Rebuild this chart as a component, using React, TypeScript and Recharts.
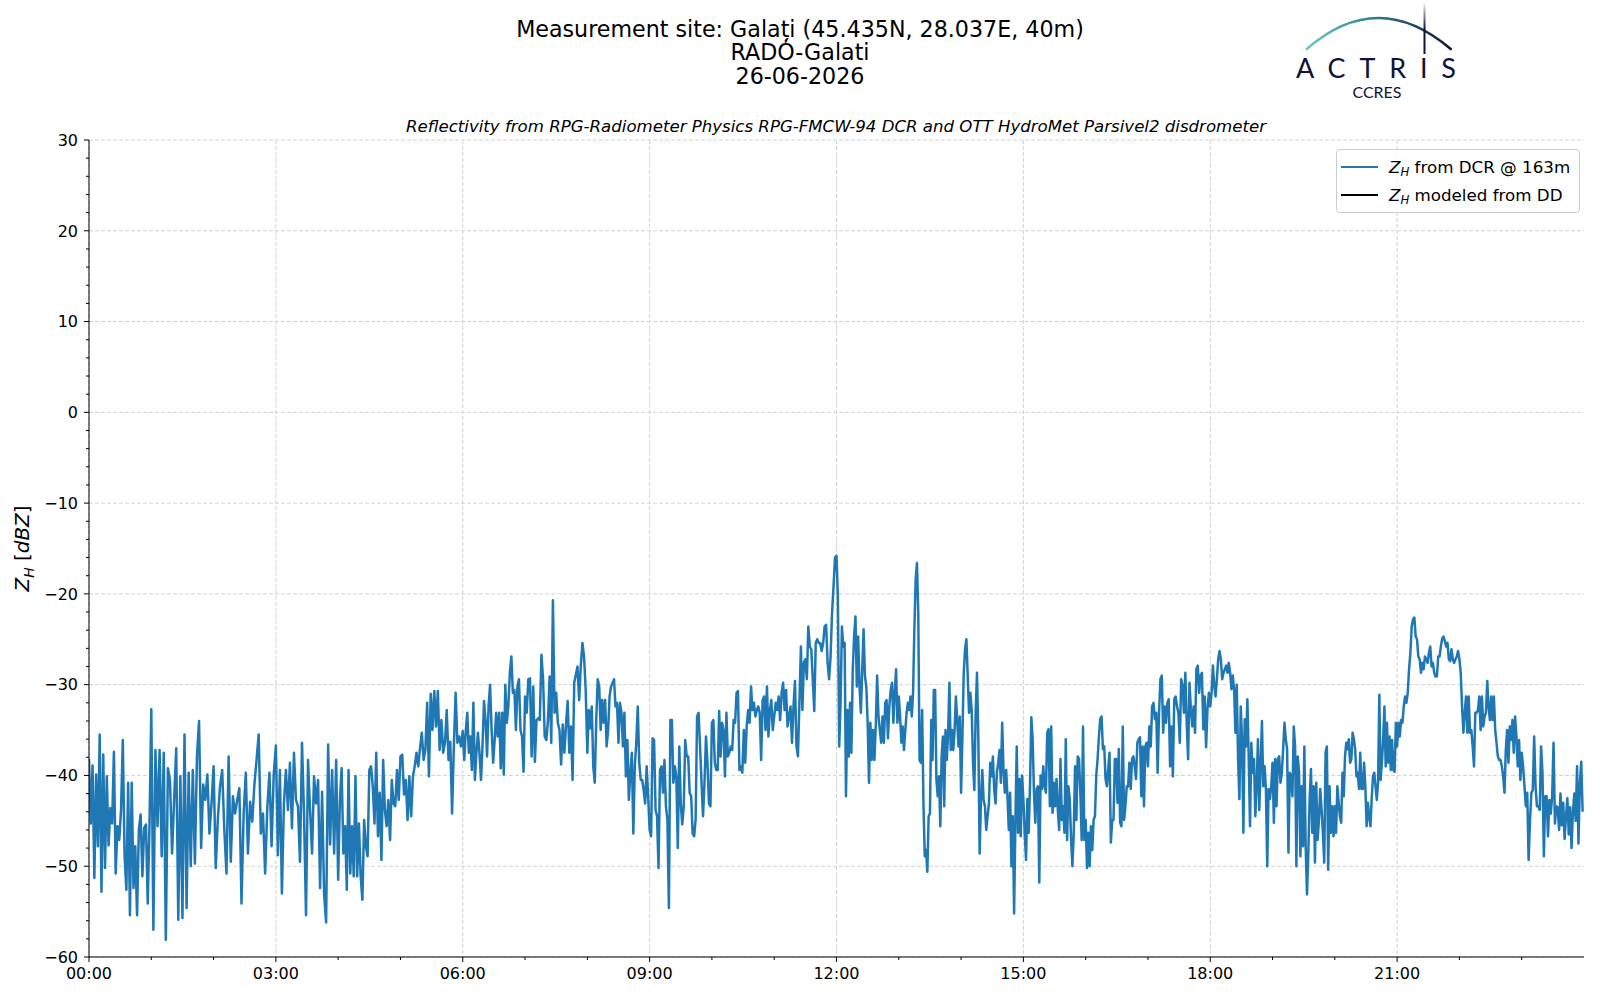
import React from 'react';
import { LineChart, Line, XAxis, YAxis, CartesianGrid, Legend } from 'recharts';

const h00 = [-38.2, -45.3, -38.9, -51.3, -39.9, -47.8, -35.5, -52.8, -37.7, -50.2, -40.1, -47.7, -43.6, -45.3, -37.4, -50.8, -45.6, -47.1, -43.8, -36.1, -48.9, -52.6, -40.8, -55.4, -40.8, -52.4, -47.8, -55.4, -46.0, -44.3, -51.1, -45.8, -45.4, -54.1, -45.3];
const h01 = [-32.7, -57.0, -37.2, -45.6, -37.2, -48.9, -37.5, -58.1, -39.2, -40.5, -48.6, -42.7, -37.0, -55.9, -40.1, -55.7, -35.5, -54.6, -39.7, -50.0, -39.4, -49.7, -37.9, -34.0, -48.0, -41.0, -42.7, -39.9, -46.4, -43.1];
const h02 = [-39.0, -50.2, -44.7, -41.2, -39.4, -46.0, -50.8, -37.9, -49.5, -42.3, -44.2, -42.7, -41.4, -54.1, -44.2, -39.7, -48.6, -42.9, -45.1, -41.0, -38.3, -35.5, -46.4, -44.2, -50.8, -43.6, -39.7, -47.8, -39.9];
const h03 = [-36.7, -48.8, -39.4, -53.0, -43.1, -39.4, -43.8, -38.6, -45.8, -37.5, -42.7, -43.4, -49.5, -36.4, -44.2, -55.4, -38.3, -43.8, -48.6, -40.1, -43.1, -40.5, -52.4, -41.8, -53.0, -56.2, -36.6, -47.6, -39.4, -48.6, -38.3];
const h04 = [-51.5, -42.7, -39.2, -48.6, -45.6, -52.6, -39.4, -50.8, -45.6, -51.1, -40.1, -51.1, -45.3, -51.1, -53.7, -44.9, -47.8, -48.9, -39.4, -39.0, -41.2, -45.3, -37.5, -46.7, -41.9, -49.3, -38.3, -43.8, -45.6, -42.7, -47.1, -40.5, -43.1, -43.4, -39.4, -42.7];
const h05 = [-37.9, -37.7, -42.1, -40.5, -44.9, -40.1, -44.5, -40.1, -39.0, -37.5, -39.0, -37.0, -35.3, -38.3, -37.2, -32.0, -40.1, -31.0, -35.0, -30.7, -34.6, -30.7, -37.2, -33.9, -37.5, -36.4, -32.8, -38.3, -36.3, -44.2, -36.8, -30.9, -36.4, -35.7, -36.8];
const h06 = [-35.1, -38.3, -35.1, -33.1, -37.5, -35.7, -39.4, -32.0, -40.5, -37.5, -35.3, -37.5, -40.5, -36.8, -31.8, -33.9, -37.9, -32.4, -30.0, -35.0, -38.6, -36.1, -33.1, -35.7, -33.1, -39.2, -33.1, -39.9, -30.0, -34.2, -32.4, -28.7, -26.9, -30.9, -30.6, -35.0, -30.2, -29.4, -35.0, -35.7, -39.6];
const h07 = [-31.3, -33.1, -29.4, -29.3, -37.9, -30.2, -38.5, -33.9, -33.7, -33.9, -26.7, -29.4, -35.7, -36.1, -33.9, -29.1, -36.4, -20.7, -33.1, -30.9, -34.2, -35.0, -38.8, -34.4, -37.5, -34.4, -31.8, -37.5, -34.6, -40.5, -29.8, -28.9, -28.0, -31.7, -28.0, -25.4, -26.9, -30.6];
const h08 = [-37.5, -32.8, -34.8, -32.4, -39.0, -40.8, -33.9, -29.4, -30.2, -35.0, -31.7, -34.2, -31.7, -36.8, -35.0, -31.3, -30.2, -29.8, -29.4, -32.4, -32.0, -36.4, -32.0, -33.1, -36.8, -33.1, -40.1, -36.1, -42.7, -39.7, -37.5, -46.4, -39.0, -36.4, -32.4, -38.6, -40.5, -40.5, -41.6, -43.1, -39.0, -42.3];
const h09 = [-46.0, -46.7, -35.9, -36.1, -43.8, -44.5, -50.2, -39.4, -39.0, -41.9, -38.3, -43.4, -44.9, -54.6, -33.9, -33.9, -40.8, -39.0, -40.1, -48.0, -36.8, -43.1, -45.4, -43.4, -36.1, -37.9, -37.9, -41.9, -42.3, -46.4, -46.7, -44.9, -33.5, -33.1, -36.8, -40.8, -44.5, -40.8, -35.7, -38.6, -43.1, -43.4];
const h10 = [-34.2, -33.9, -38.6, -39.4, -39.4, -32.9, -37.9, -34.2, -35.0, -40.1, -33.1, -37.9, -37.5, -36.8, -37.2, -33.9, -34.2, -30.9, -30.7, -39.4, -39.0, -39.7, -35.0, -38.6, -34.6, -32.8, -34.2, -30.2, -32.8, -32.0, -33.5, -32.8, -32.4, -33.1, -38.3, -31.7, -31.3, -35.0, -30.2, -35.7, -32.8, -31.7, -35.0];
const h11 = [-33.5, -32.0, -32.8, -31.3, -33.9, -30.9, -29.8, -32.8, -30.6, -34.6, -33.5, -32.4, -36.4, -32.4, -29.6, -36.8, -37.9, -32.0, -25.8, -32.8, -27.6, -27.2, -29.4, -23.6, -25.8, -26.1, -29.4, -32.9, -25.4, -25.0, -25.4, -25.4, -26.3, -25.4, -23.6, -23.4, -27.6, -29.4, -26.9, -22.1, -19.2, -16.0];
const h12 = [-15.8, -20.3, -36.8, -32.0, -23.6, -25.8, -25.4, -42.3, -32.8, -37.9, -32.0, -37.5, -28.3, -24.7, -22.5, -30.2, -24.7, -30.2, -33.1, -28.3, -23.9, -29.0, -30.2, -34.2, -40.8, -34.2, -38.3, -35.0, -38.3, -34.6, -29.0, -33.5, -35.0, -36.4, -33.5, -36.4, -32.0, -31.7, -35.9, -32.4, -30.6, -29.8, -34.2, -30.9, -28.3, -34.2];
const h13 = [-31.3, -33.5, -36.4, -34.6, -37.2, -35.0, -33.1, -32.0, -32.8, -31.3, -33.5, -30.9, -23.9, -18.4, -16.6, -22.1, -38.3, -38.6, -32.8, -43.1, -48.9, -48.2, -50.6, -44.5, -44.2, -33.9, -38.3, -30.6, -30.6, -40.5, -42.3, -40.1, -45.6, -37.9, -35.7, -43.4, -35.0, -38.3, -35.3, -29.8, -37.2, -35.0, -37.2, -35.0, -31.3, -33.9, -36.8, -33.5];
const h14 = [-41.9, -35.7, -28.7, -26.1, -25.0, -29.0, -33.1, -30.9, -32.8, -38.6, -41.6, -33.1, -28.7, -35.7, -48.6, -42.7, -39.4, -42.7, -43.4, -46.0, -44.5, -43.1, -38.6, -40.1, -37.9, -41.6, -43.1, -39.7, -38.6, -37.2, -40.8, -34.2, -39.4, -41.9, -39.4, -42.3, -46.0, -41.9, -50.0, -44.5, -55.2, -44.9, -36.8, -46.3, -40.4, -46.7, -40.0];
const h15 = [-42.6, -46.3, -49.3, -42.6, -46.3, -41.2, -33.6, -36.0, -41.9, -45.2, -41.5, -41.2, -51.8, -40.0, -41.5, -39.0, -41.2, -41.9, -35.3, -34.9, -43.4, -34.6, -44.1, -40.8, -43.4, -40.4, -43.8, -46.0, -38.2, -44.9, -43.4, -46.3, -36.0, -47.1, -41.2, -42.6, -47.1, -50.0, -46.3, -39.0, -44.9, -37.9, -38.2, -41.9, -47.1, -34.6, -47.1];
const h16 = [-44.9, -50.2, -46.3, -50.0, -45.6, -48.2, -44.9, -44.5, -40.0, -38.2, -35.7, -33.8, -33.5, -37.1, -36.8, -40.4, -41.2, -39.3, -37.5, -47.4, -44.9, -44.9, -38.2, -38.2, -43.0, -37.1, -45.2, -45.6, -34.6, -44.9, -43.4, -41.2, -41.2, -38.6, -41.5, -38.2, -37.9, -39.0, -40.4, -36.4, -36.0, -35.8, -42.3, -36.8, -43.4, -36.8, -36.4];
const h17 = [-39.0, -34.6, -36.8, -32.4, -32.0, -33.8, -33.1, -39.7, -33.1, -29.4, -29.0, -35.3, -32.4, -34.2, -32.0, -31.6, -39.0, -34.6, -40.1, -31.6, -31.3, -32.4, -33.1, -36.4, -29.4, -30.1, -33.1, -28.7, -34.2, -38.2, -29.8, -32.7, -34.6, -32.4, -35.3, -28.3, -27.9, -30.9, -29.0, -28.7, -34.9, -31.3, -36.9, -32.7, -30.9];
const h18 = [-32.4, -30.9, -27.9, -30.1, -31.3, -29.4, -27.2, -26.3, -27.2, -29.4, -28.7, -28.3, -27.9, -28.7, -27.6, -28.7, -30.5, -29.0, -30.5, -35.3, -30.0, -38.2, -42.6, -32.4, -36.0, -46.3, -33.8, -36.8, -31.6, -37.9, -45.6, -36.4, -39.7, -38.2, -44.5, -41.2, -36.0, -43.8, -39.0, -34.0, -41.2, -39.0, -41.5, -50.0, -41.5, -42.6, -41.2];
const h19 = [-38.6, -45.2, -38.2, -43.4, -38.2, -37.9, -40.8, -39.7, -37.1, -34.2, -36.0, -37.1, -48.5, -39.7, -40.1, -42.3, -34.6, -36.8, -50.0, -37.9, -39.7, -48.9, -41.2, -47.8, -36.8, -47.8, -53.1, -48.5, -42.6, -39.3, -46.3, -41.2, -49.6, -40.8, -47.1, -44.9, -41.5, -43.8, -46.3, -49.6, -37.5, -36.8, -50.4, -41.2, -46.3, -43.4, -46.7];
const h20 = [-43.4, -46.3, -41.2, -43.0, -44.5, -45.2, -39.7, -42.3, -37.9, -36.4, -37.1, -36.0, -38.6, -38.2, -35.3, -36.0, -37.1, -40.1, -39.7, -41.5, -37.5, -41.5, -41.5, -38.6, -41.2, -45.6, -43.0, -44.5, -45.6, -42.6, -40.1, -39.7, -41.2, -42.7, -40.8, -31.1, -40.5, -38.6, -36.1, -32.4, -39.0, -34.2, -38.6, -35.7, -39.4, -36.1, -39.4, -39.6, -34.2];
const h21 = [-36.8, -34.2, -35.7, -33.9, -34.2, -32.4, -31.3, -32.0, -30.9, -28.3, -26.5, -23.6, -22.8, -22.6, -24.7, -25.0, -26.9, -27.2, -28.7, -27.6, -28.3, -26.9, -27.2, -27.6, -26.5, -25.8, -28.0, -27.6, -28.7, -29.1, -29.1, -26.9, -26.9, -25.8, -24.9, -24.7, -25.2, -25.8, -25.4, -27.2, -27.4, -26.1, -27.2, -27.6, -27.2, -26.9, -26.3];
const h22 = [-27.2, -28.7, -32.4, -35.3, -33.1, -31.3, -35.3, -31.3, -35.3, -35.0, -36.8, -39.0, -33.1, -33.1, -32.8, -31.3, -35.0, -31.3, -34.6, -33.5, -33.1, -29.6, -32.4, -33.9, -31.3, -33.9, -31.3, -35.0, -36.4, -37.9, -38.3, -38.3, -39.0, -40.1, -41.9, -37.2, -35.0, -38.6, -34.6, -36.1, -33.9, -37.5, -33.5, -35.7, -39.0, -36.1, -40.5];
const h23 = [-37.5, -39.0, -41.2, -43.4, -41.9, -49.3, -44.9, -41.9, -41.6, -35.7, -41.2, -43.4, -43.4, -43.8, -36.8, -39.7, -48.9, -42.3, -42.3, -46.7, -42.7, -44.2, -42.3, -36.4, -45.3, -43.4, -43.5, -46.0, -42.0, -45.5, -43.0, -47.0, -44.5, -42.5, -46.5, -43.5, -48.0, -44.0, -42.0, -45.0, -39.0, -47.5, -41.0, -38.5, -44.0];

const HOURS = [h00, h01, h02, h03, h04, h05, h06, h07, h08, h09, h10, h11, h12, h13, h14, h15, h16, h17, h18, h19, h20, h21, h22, h23];

const X_MAJOR = [0, 3, 6, 9, 12, 15, 18, 21];
const X_MINOR = [1, 2, 4, 5, 7, 8, 10, 11, 13, 14, 16, 17, 19, 20, 22, 23];
const Y_MAJOR = [-60, -50, -40, -30, -20, -10, 0, 10, 20, 30];
const Y_MINOR = Array.from({ length: 46 }, (_, i) => -60 + i * 2).filter(v => v % 10 !== 0);

const FONT = '"DejaVu Sans", "Liberation Sans", sans-serif';
const BLUE = '#1f77b4';
const TICK = 5;
const PAD_X = 5;
const PAD_Y = 6;

const rows = HOURS.flatMap((vals, h) => vals.map((v, i) => ({ t: h + i / vals.length, dcr: v })));

const fmtHour = (h: number) => `${String(h).padStart(2, '0')}:00`;
const fmtDbz = (v: number) => (v < 0 ? `\u2212${Math.abs(v)}` : String(v));

const XTick = (props: any) => {
  const { x, y, payload } = props;
  const major = X_MAJOR.includes(payload.value);
  const y0 = y - TICK - PAD_X;
  return (
    <g>
      <line x1={x} x2={x} y1={y0} y2={y0 + (major ? TICK : 3)} stroke="#000" strokeWidth={1} />
      {major && (
        <text x={x} y={y0 + TICK + PAD_X} dy="0.76em" textAnchor="middle" fontFamily={FONT} fontSize={16} fill="#000">
          {fmtHour(payload.value)}
        </text>
      )}
    </g>
  );
};

const YTick = (props: any) => {
  const { x, y, payload } = props;
  const major = Y_MAJOR.includes(payload.value);
  const x0 = x + TICK + PAD_Y;
  return (
    <g>
      <line x1={x0 - (major ? TICK : 3)} x2={x0} y1={y} y2={y} stroke="#000" strokeWidth={1} />
      {major && (
        <text x={x0 - TICK - PAD_Y} y={y} dy="0.36em" textAnchor="end" fontFamily={FONT} fontSize={16} fill="#000">
          {fmtDbz(payload.value)}
        </text>
      )}
    </g>
  );
};

const ZH = () => (
  <>
    <i>Z</i>
    <sub style={{ fontSize: 11.7, fontStyle: 'italic', verticalAlign: '-3px', lineHeight: 0 }}>H</sub>
  </>
);

const LegendBox = (props: any) => {
  const { payload = [] } = props;
  return (
    <div
      style={{
        border: '1px solid #cccccc',
        borderRadius: 4,
        background: 'rgba(255,255,255,0.8)',
        padding: '3px 9px 3px 4px',
        fontFamily: FONT,
        fontSize: 16.7,
        color: '#000',
        whiteSpace: 'nowrap',
      }}
    >
      {payload.map((entry: any) => (
        <div key={entry.value} style={{ display: 'flex', alignItems: 'center', height: 28 }}>
          <span style={{ display: 'inline-block', width: 37, borderTop: `2px solid ${entry.color}`, marginRight: 11 }} />
          <span>
            <ZH /> {entry.value}
          </span>
        </div>
      ))}
    </div>
  );
};

const Overlay = () => (
  <svg width={1600} height={1000} style={{ position: 'absolute', left: 0, top: 0, pointerEvents: 'none' }}>
    <defs>
      <linearGradient id="arc" x1="1306" y1="0" x2="1451" y2="0" gradientUnits="userSpaceOnUse">
        <stop offset="0" stopColor="#6cc9c6" />
        <stop offset="0.45" stopColor="#2f7f93" />
        <stop offset="1" stopColor="#10123a" />
      </linearGradient>
      <linearGradient id="mast" x1="0" y1="2" x2="0" y2="54" gradientUnits="userSpaceOnUse">
        <stop offset="0" stopColor="#ffffff" />
        <stop offset="0.5" stopColor="#10123a" />
        <stop offset="1" stopColor="#10123a" />
      </linearGradient>
    </defs>
    <g fontFamily={FONT} fill="#000" textAnchor="middle">
      <text x={800} y={36.5} fontSize={22.2}>Measurement site: Galați (45.435N, 28.037E, 40m)</text>
      <text x={800} y={60} fontSize={22.2}>RADÓ-Galati</text>
      <text x={800} y={83.5} fontSize={22.2}>26-06-2026</text>
      <text x={836} y={131.5} fontSize={16.6} fontStyle="italic">
        Reflectivity from RPG-Radiometer Physics RPG-FMCW-94 DCR and OTT HydroMet Parsivel2 disdrometer
      </text>
      <text x={22.5} y={548.5} fontSize={19.9} transform="rotate(-90 22.5 548.5)" dy="0.35em">
        <tspan fontStyle="italic">Z</tspan>
        <tspan fontStyle="italic" fontSize={13.9} dy={4.5}>H</tspan>
        <tspan dy={-4.5}> [</tspan>
        <tspan fontStyle="italic">dBZ</tspan>
        <tspan>]</tspan>
      </text>
    </g>
    <path d="M1306.7 49 Q1378 -13 1450.7 49" fill="none" stroke="url(#arc)" strokeWidth={2.6} strokeLinecap="round" />
    <line x1={1424.5} x2={1424.5} y1={2} y2={54} stroke="url(#mast)" strokeWidth={2} />
    <text x={1296} y={77.5} fontFamily="Lato, 'Open Sans', sans-serif" fontSize={27} fill="#10123a" textLength={160} lengthAdjust="spacing">
      ACTRIS
    </text>
    <text x={1377} y={98} fontFamily="Lato, 'Open Sans', sans-serif" fontSize={16} fill="#10123a" textAnchor="middle">
      CCRES
    </text>
  </svg>
);

const App: React.FC = () => {
  const allX = [...X_MAJOR, ...X_MINOR].sort((a, b) => a - b);
  const allY = [...Y_MAJOR, ...Y_MINOR].sort((a, b) => a - b);

  return (
    <div style={{ position: 'absolute', left: 0, top: 0, width: 1600, height: 1000, background: '#fff' }}>
      <LineChart width={1600} height={1000} data={rows} margin={{ top: 140, right: 16, bottom: 13, left: 29 }}>
        <CartesianGrid
          stroke="#d3d3d3"
          strokeDasharray="4 2"
          horizontalValues={Y_MAJOR}
          verticalValues={X_MAJOR}
        />
        <XAxis
          dataKey="t"
          type="number"
          domain={[0, 24]}
          ticks={allX}
          interval={0}
          tick={<XTick />}
          tickLine={false}
          tickSize={TICK}
          tickMargin={PAD_X}
          height={30}
          axisLine={{ stroke: '#000' }}
          allowDataOverflow
        />
        <XAxis
          xAxisId="top"
          orientation="top"
          type="number"
          domain={[0, 24]}
          tick={false}
          tickLine={false}
          height={0}
          axisLine={{ stroke: '#000' }}
        />
        <YAxis
          type="number"
          domain={[-60, 30]}
          ticks={allY}
          interval={0}
          tick={<YTick />}
          tickLine={false}
          tickSize={TICK}
          tickMargin={PAD_Y}
          width={60}
          axisLine={{ stroke: '#000' }}
          allowDataOverflow
        />
        <YAxis
          yAxisId="right"
          orientation="right"
          type="number"
          domain={[0, 1]}
          tick={false}
          tickLine={false}
          width={0}
          axisLine={{ stroke: '#000' }}
        />
        <Legend
          layout="vertical"
          align="center"
          verticalAlign="middle"
          wrapperStyle={{ top: 149, left: 1336, width: 'auto' }}
          content={<LegendBox />}
        />
        <Line
          type="linear"
          dataKey="dcr"
          name="from DCR @ 163m"
          stroke={BLUE}
          strokeWidth={2.5}
          strokeLinejoin="round"
          dot={false}
          legendType="line"
          isAnimationActive={false}
        />
        <Line
          type="linear"
          dataKey="dd"
          name="modeled from DD"
          stroke="#000000"
          strokeWidth={2}
          dot={false}
          legendType="line"
          isAnimationActive={false}
        />
      </LineChart>
      <Overlay />
    </div>
  );
};

export default App;
